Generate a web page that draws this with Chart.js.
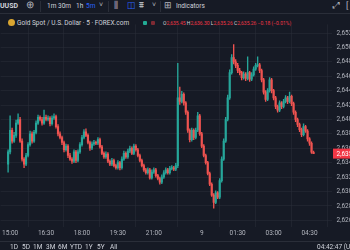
<!DOCTYPE html>
<html>
<head>
<meta charset="utf-8">
<script src="https://cdn.jsdelivr.net/npm/chart.js@4.4.1/dist/chart.umd.min.js"></script>
<style>
  html, body { margin: 0; padding: 0; }
  body { width: 350px; height: 250px; overflow: hidden; background: #161a25; position: relative;
         font-family: Roboto, "Liberation Sans", sans-serif; color: #d1d4dc; }
  .t { position: absolute; white-space: nowrap; line-height: 1; font-size: 6.5px; }
  .hl { position: absolute; left: 0; width: 350px; height: 1px; background: #2a2e39; }
  .vl { position: absolute; width: 1px; background: #2a2e39; }
  #chartBox { position: absolute; left: 0; top: 16px; width: 350px; height: 226px; }
  .red { color: #f23645; }
</style>
</head>
<body>
<!-- top toolbar -->
<div class="t" style="left:0;top:3px;font-weight:bold;font-size:7px">UUSD</div>
<div class="t" style="left:26px;top:0px;font-size:10px;color:#b2b5be">⊕</div>
<div class="vl" style="left:40px;top:1px;height:11px"></div>
<div class="t" style="left:47px;top:3px">1m</div>
<div class="t" style="left:58px;top:3px">30m</div>
<div class="t" style="left:76px;top:3px">1h</div>
<div class="t" style="left:86px;top:3px;color:#2962ff">5m</div>
<div class="t" style="left:99px;top:2px;font-size:7px;color:#b2b5be">˅</div>
<div class="vl" style="left:108px;top:1px;height:11px"></div>
<div class="t" style="left:114px;top:1px;font-size:9px;color:#b2b5be">⫼</div>
<div class="t" style="left:127px;top:1px;font-size:9px;color:#2962ff">◫</div>
<div class="t" style="left:139px;top:1px;font-size:9px;color:#b2b5be">⩩</div>
<div class="t" style="left:152px;top:2px;font-size:7px;color:#b2b5be">˅</div>
<div class="vl" style="left:160px;top:1px;height:11px"></div>
<div class="t" style="left:164px;top:1px;font-size:9px;color:#b2b5be">⊞</div>
<div class="t" style="left:176px;top:3px">Indicators</div>
<div class="t" style="left:333px;top:1px;font-size:9px;color:#b2b5be">⤢</div>
<div class="t" style="left:346px;top:1px;font-size:9px;color:#b2b5be">[</div>
<div class="hl" style="top:13px"></div>

<!-- legend row -->
<div style="position:absolute;left:8px;top:19px;width:7px;height:7px;border-radius:50%;background:#d9a531"></div>
<div class="t" style="left:17px;top:19.5px">Gold Spot / U.S. Dollar · 5 · FOREX.com</div>
<div style="position:absolute;left:143px;top:21px;width:4px;height:4px;border-radius:1px;background:#22ab94"></div>
<div style="position:absolute;left:151px;top:21px;width:4px;height:4px;border-radius:1px;background:#7e2a33"></div>
<div class="t" style="left:163px;top:20.5px;font-size:5px">O<span class="red">2,635.45</span> H<span class="red">2,636.30</span> L<span class="red">2,635.26</span> C<span class="red">2,635.26</span> <span class="red">−0.18 (−0.01%)</span></div>

<div id="chartBox"><canvas id="c" width="350" height="226"></canvas></div>

<!-- bottom bar -->
<div class="hl" style="top:241px"></div>
<div class="t" style="left:10px;top:244px">1D</div>
<div class="t" style="left:22px;top:244px">5D</div>
<div class="t" style="left:33px;top:244px">1M</div>
<div class="t" style="left:46px;top:244px">3M</div>
<div class="t" style="left:58px;top:244px">6M</div>
<div class="t" style="left:70px;top:244px">YTD</div>
<div class="t" style="left:85px;top:244px">1Y</div>
<div class="t" style="left:97px;top:244px">5Y</div>
<div class="t" style="left:110px;top:244px">All</div>
<div class="t" style="left:317px;top:244px">04:42:47 (UTC)</div>

<script>
// 5-minute candles, Fri 14:55 -> 21:55, then Sun 23:00 -> Mon 04:40 (UTC)
const opens = [
  2633.8, 2635.5, 2638.5, 2637.0, 2637.8, 2639.5, 2640.0, 2637.0, 2634.5, 2633.8,
  2635.0, 2636.5, 2638.0, 2637.0, 2638.2, 2639.5, 2640.3, 2640.0, 2639.5, 2640.3,
  2640.0, 2640.2, 2639.4, 2640.2, 2640.4, 2639.0, 2638.0, 2637.5, 2636.8, 2635.8,
  2636.3, 2635.0, 2634.5, 2634.2, 2635.5, 2634.3, 2635.5, 2636.5, 2637.5, 2638.3,
  2637.8, 2636.8, 2636.0, 2636.6, 2636.8, 2636.7, 2637.2, 2636.2, 2635.3, 2634.8,
  2635.2, 2634.2, 2633.8, 2634.3, 2633.6, 2633.3, 2634.0, 2633.3, 2634.5, 2635.3,
  2634.8, 2635.6, 2636.0, 2635.3, 2636.3, 2635.8, 2635.0, 2634.3, 2633.6, 2633.0,
  2632.6, 2633.0, 2631.9, 2632.7, 2633.0, 2632.2, 2631.8, 2631.3, 2632.0, 2632.6,
  2633.0, 2632.6, 2633.2, 2633.3, 2633.1, 2633.6, 2643.0, 2642.5, 2643.5, 2642.3,
  2641.0, 2638.5, 2637.2, 2638.5, 2637.5, 2638.5, 2640.5, 2638.0, 2636.3, 2635.0,
  2634.0, 2632.5, 2631.0, 2629.5, 2628.5, 2629.8, 2629.2, 2631.5, 2634.5, 2637.0,
  2640.0, 2643.0, 2646.5, 2648.6, 2648.0, 2647.5, 2646.8, 2646.5, 2645.8, 2646.3,
  2645.7, 2646.5, 2645.6, 2646.2, 2647.0, 2647.5, 2647.6, 2646.8, 2645.5, 2643.8,
  2642.8, 2644.0, 2645.5, 2644.0, 2643.0, 2641.8, 2641.3, 2642.3, 2641.8, 2642.5,
  2643.0, 2642.5, 2643.2, 2642.2, 2641.0, 2640.0, 2639.3, 2638.6, 2637.9, 2639.0,
  2638.4, 2637.3, 2636.7, 2635.45
];
const highs = [
  2635.8, 2640.5, 2638.8, 2638.2, 2639.9, 2640.8, 2640.3, 2637.3, 2634.7, 2635.3,
  2636.8, 2638.4, 2638.3, 2638.5, 2639.8, 2640.6, 2640.5, 2640.3, 2641.3, 2640.6,
  2640.5, 2640.4, 2640.5, 2640.8, 2640.6, 2639.3, 2638.3, 2637.7, 2637.0, 2636.6,
  2636.5, 2635.3, 2634.7, 2635.8, 2635.7, 2635.8, 2636.8, 2637.8, 2638.6, 2638.7,
  2638.0, 2637.0, 2636.9, 2637.1, 2637.0, 2637.5, 2637.4, 2636.4, 2635.5, 2635.5,
  2635.4, 2634.4, 2634.6, 2634.5, 2633.8, 2634.3, 2634.2, 2634.8, 2635.6, 2635.5,
  2635.9, 2636.3, 2636.2, 2636.6, 2636.5, 2636.0, 2635.2, 2634.5, 2633.8, 2633.2,
  2633.3, 2633.2, 2633.0, 2633.3, 2633.2, 2632.4, 2632.0, 2632.3, 2632.9, 2633.3,
  2633.2, 2633.5, 2633.6, 2633.5, 2633.9, 2647.8, 2644.5, 2643.9, 2643.7, 2642.5,
  2641.2, 2638.7, 2638.8, 2638.7, 2638.8, 2641.0, 2640.7, 2638.2, 2636.5, 2635.2,
  2634.2, 2632.7, 2631.2, 2629.7, 2630.1, 2630.0, 2631.8, 2634.8, 2637.3, 2640.3,
  2643.4, 2646.9, 2649.0, 2650.4, 2648.3, 2647.8, 2647.1, 2646.7, 2646.6, 2646.5,
  2648.7, 2646.7, 2646.5, 2647.3, 2647.8, 2648.7, 2647.8, 2647.0, 2645.7, 2644.0,
  2644.3, 2645.8, 2645.7, 2644.2, 2643.2, 2642.0, 2642.6, 2642.5, 2642.8, 2643.3,
  2643.2, 2643.8, 2643.4, 2642.4, 2641.2, 2640.2, 2639.5, 2638.8, 2639.4, 2639.2,
  2638.6, 2637.5, 2636.9, 2635.6
];
const lows = [
  2632.7, 2635.2, 2636.7, 2636.8, 2637.5, 2639.3, 2636.8, 2634.2, 2633.3, 2633.6,
  2634.8, 2636.3, 2636.7, 2636.8, 2638.0, 2639.3, 2639.8, 2639.2, 2639.3, 2639.8,
  2639.8, 2639.1, 2639.2, 2640.0, 2638.8, 2637.7, 2637.3, 2636.5, 2635.5, 2635.6,
  2634.7, 2634.3, 2633.9, 2634.0, 2634.0, 2634.1, 2635.3, 2636.3, 2637.3, 2637.6,
  2636.6, 2635.7, 2635.8, 2636.4, 2636.5, 2636.5, 2636.0, 2635.1, 2634.6, 2634.6,
  2634.0, 2633.6, 2633.6, 2633.4, 2633.1, 2633.1, 2633.0, 2633.1, 2634.3, 2634.6,
  2634.6, 2635.4, 2635.1, 2635.1, 2635.6, 2634.8, 2634.1, 2633.4, 2632.8, 2632.4,
  2632.4, 2631.7, 2631.7, 2632.5, 2632.0, 2631.6, 2631.0, 2631.1, 2631.8, 2632.4,
  2632.4, 2632.4, 2633.0, 2632.9, 2632.9, 2633.3, 2642.1, 2642.3, 2642.0, 2640.7,
  2638.2, 2636.9, 2637.0, 2637.2, 2637.3, 2638.3, 2637.8, 2636.1, 2634.8, 2633.8,
  2632.3, 2630.8, 2629.3, 2627.7, 2628.3, 2629.0, 2629.0, 2631.3, 2634.3, 2636.8,
  2639.8, 2642.8, 2646.3, 2647.7, 2647.2, 2646.5, 2646.2, 2645.5, 2645.6, 2645.4,
  2645.5, 2645.3, 2645.4, 2646.0, 2646.8, 2647.3, 2646.5, 2645.2, 2643.5, 2642.5,
  2642.6, 2643.8, 2643.7, 2642.7, 2641.5, 2641.0, 2641.1, 2641.5, 2641.6, 2642.3,
  2642.2, 2642.3, 2641.9, 2640.7, 2639.7, 2639.0, 2638.3, 2637.6, 2637.7, 2638.2,
  2637.0, 2636.4, 2635.3, 2635.26
];
const closes = [
  2635.5, 2638.5, 2637.0, 2637.8, 2639.5, 2640.0, 2637.0, 2634.5, 2633.8, 2635.0,
  2636.5, 2638.0, 2637.0, 2638.2, 2639.5, 2640.3, 2640.0, 2639.5, 2640.3, 2640.0,
  2640.2, 2639.4, 2640.2, 2640.4, 2639.0, 2638.0, 2637.5, 2636.8, 2635.8, 2636.3,
  2635.0, 2634.5, 2634.2, 2635.5, 2634.3, 2635.5, 2636.5, 2637.5, 2638.3, 2637.8,
  2636.8, 2636.0, 2636.6, 2636.8, 2636.7, 2637.2, 2636.2, 2635.3, 2634.8, 2635.2,
  2634.2, 2633.8, 2634.3, 2633.6, 2633.3, 2634.0, 2633.3, 2634.5, 2635.3, 2634.8,
  2635.6, 2636.0, 2635.3, 2636.3, 2635.8, 2635.0, 2634.3, 2633.6, 2633.0, 2632.6,
  2633.0, 2631.9, 2632.7, 2633.0, 2632.2, 2631.8, 2631.3, 2632.0, 2632.6, 2633.0,
  2632.6, 2633.2, 2633.3, 2633.1, 2633.6, 2643.0, 2642.5, 2643.5, 2642.3, 2641.0,
  2638.5, 2637.2, 2638.5, 2637.5, 2638.5, 2640.5, 2638.0, 2636.3, 2635.0, 2634.0,
  2632.5, 2631.0, 2629.5, 2628.5, 2629.8, 2629.2, 2631.5, 2634.5, 2637.0, 2640.0,
  2643.0, 2646.5, 2648.6, 2648.0, 2647.5, 2646.8, 2646.5, 2645.8, 2646.3, 2645.7,
  2646.5, 2645.6, 2646.2, 2647.0, 2647.5, 2647.6, 2646.8, 2645.5, 2643.8, 2642.8,
  2644.0, 2645.5, 2644.0, 2643.0, 2641.8, 2641.3, 2642.3, 2641.8, 2642.5, 2643.0,
  2642.5, 2643.2, 2642.2, 2641.0, 2640.0, 2639.3, 2638.6, 2637.9, 2639.0, 2638.4,
  2637.3, 2636.7, 2635.45, 2635.26
];

// time axis labels and the candle index they sit on
const timeTickIdx = [1, 19, 37, 55, 73, 97, 115, 133, 151];
const timeTickLabels = ["15:00", "16:30", "18:00", "19:30", "21:00", "9", "01:30", "03:00", "04:30"];
const priceTicks = [2626, 2628, 2630, 2632, 2634, 2636, 2638, 2640, 2642, 2644, 2646, 2648, 2650, 2652];

const upColor = "#26a69a";
const downColor = "#ef5350";
const gridColor = "rgba(42,46,57,0.55)";
const axisText = "#b2b5be";

Chart.defaults.font.family = "Roboto, 'Liberation Sans', sans-serif";

const candleColor = (ctx) => closes[ctx.dataIndex] >= opens[ctx.dataIndex] ? upColor : downColor;

// red box with the last price on the price axis
const lastPriceTag = {
  id: "lastPriceTag",
  afterDraw(chart) {
    const { ctx, chartArea, scales } = chart;
    const last = closes[closes.length - 1];
    const y = scales.y.getPixelForValue(last);
    ctx.save();
    ctx.fillStyle = "#f23645";
    ctx.fillRect(chartArea.right + 1, y - 5, 30, 10);
    ctx.fillStyle = "#ffffff";
    ctx.font = "6.5px Roboto, 'Liberation Sans', sans-serif";
    ctx.textBaseline = "middle";
    ctx.fillText(last.toLocaleString("en-US", { minimumFractionDigits: 2 }), chartArea.right + 4.5, y + 0.5);
    ctx.restore();
  },
};

new Chart(document.getElementById("c"), {
  type: "bar",
  data: {
    datasets: [
      {
        data: closes.map((c, i) => ({ x: i, y: [lows[i], highs[i]] })),
        backgroundColor: candleColor,
        barThickness: 0.7,
        grouped: false,
        order: 2,
      },
      {
        data: closes.map((c, i) => ({ x: i, y: [opens[i], c] })),
        backgroundColor: candleColor,
        barThickness: 1.5,
        minBarLength: 0.8,
        grouped: false,
        order: 1,
      },
    ],
  },
  options: {
    responsive: false,
    animation: false,
    layout: { padding: 0 },
    plugins: { legend: { display: false }, tooltip: { enabled: false } },
    scales: {
      x: {
        type: "linear",
        min: -3.75,
        max: 162.25,
        offset: false,
        afterBuildTicks: (s) => { s.ticks = timeTickIdx.map((v) => ({ value: v })); },
        afterFit: (s) => { s.height = 15; },
        ticks: {
          autoSkip: false,
          maxRotation: 0,
          padding: 2,
          color: axisText,
          font: { size: 6.5 },
          callback: (v) => timeTickLabels[timeTickIdx.indexOf(v)],
        },
        grid: { color: gridColor, drawTicks: false },
        border: { display: false },
      },
      y: {
        position: "right",
        min: 2625.07,
        max: 2653.2,
        afterBuildTicks: (s) => { s.ticks = priceTicks.map((v) => ({ value: v })); },
        afterFit: (s) => { s.width = 18; },
        ticks: {
          padding: 4.5,
          color: axisText,
          font: { size: 6.5 },
          callback: (v) => v.toLocaleString("en-US"),
        },
        grid: { color: gridColor, drawTicks: false },
        border: { display: false },
      },
    },
  },
  plugins: [lastPriceTag],
});
</script>
</body>
</html>
